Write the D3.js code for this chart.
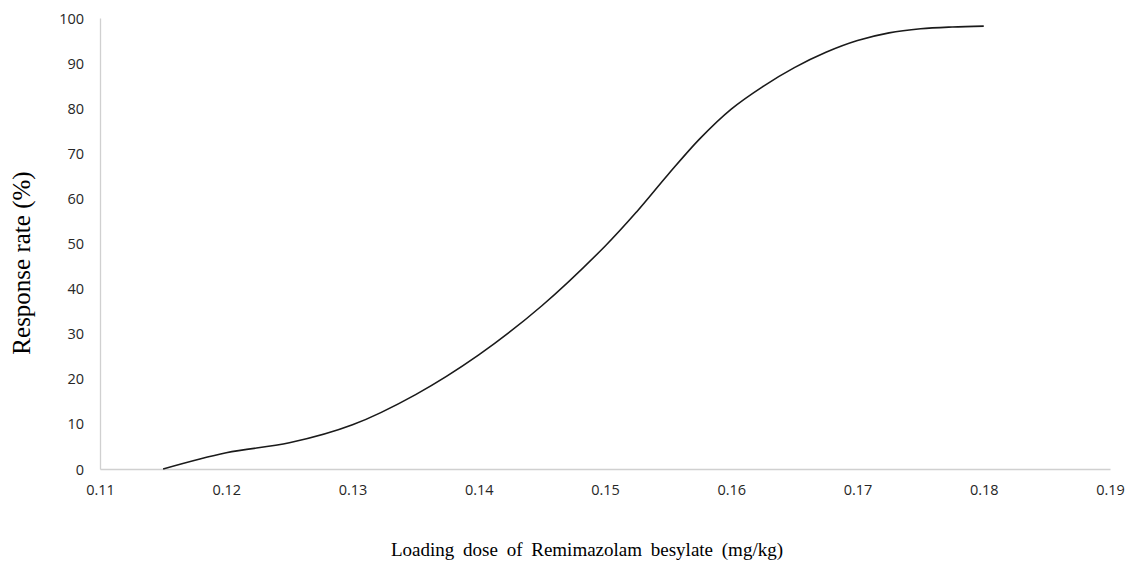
<!DOCTYPE html>
<html>
<head>
<meta charset="utf-8">
<script src="https://cdn.jsdelivr.net/npm/d3@7"></script>
<style>
  body { margin: 0; background: #fff; }
  .tick text { font-family: "Open Sans", "Noto Sans", sans-serif; font-size: 14.5px; fill: #262626; }
  .aText { font-family: "Liberation Serif", "Times New Roman", serif; fill: #000; }
</style>
</head>
<body>
<div id="chart"></div>
<script>
// dose (mg/kg) vs response rate (%)
var doses = [0.115, 0.12, 0.125, 0.13, 0.135, 0.14, 0.145, 0.15, 0.1525, 0.155, 0.1575,
             0.16, 0.1625, 0.165, 0.1675, 0.17, 0.1725, 0.175, 0.1775, 0.18];
var rates = [0, 3.6, 5.8, 9.8, 16.5, 25.3, 36.2, 49.4, 57, 65.3, 73.2,
             79.8, 84.8, 89, 92.4, 95, 96.7, 97.6, 98, 98.2];
var xTicks = [0.11, 0.12, 0.13, 0.14, 0.15, 0.16, 0.17, 0.18, 0.19];
var yTicks = [0, 10, 20, 30, 40, 50, 60, 70, 80, 90, 100];

var svgWidth = 1130;
var svgHeight = 566;

var margin = { top: 18, right: 20, bottom: 97, left: 100 };
var width = svgWidth - margin.left - margin.right;
var height = svgHeight - margin.top - margin.bottom;

var svg = d3.select("#chart")
  .append("svg")
  .attr("width", svgWidth)
  .attr("height", svgHeight);

var chartGroup = svg.append("g")
  .attr("transform", `translate(${margin.left}, ${margin.top})`);

var data = doses.map((d, i) => ({ dose: d, rate: rates[i] }));

var xLinearScale = d3.scaleLinear().domain([0.11, 0.19]).range([0, width]);
var yLinearScale = d3.scaleLinear().domain([0, 100]).range([height, 0]);

var bottomAxis = d3.axisBottom(xLinearScale).tickValues(xTicks).tickSize(0).tickPadding(16)
  .tickFormat(d3.format(".2f"));
var leftAxis = d3.axisLeft(yLinearScale).tickValues(yTicks).tickSize(0).tickPadding(16);

var xAxisG = chartGroup.append("g")
  .attr("transform", `translate(0, ${height})`)
  .call(bottomAxis);
var yAxisG = chartGroup.append("g").call(leftAxis);

[xAxisG, yAxisG].forEach(g => g.select(".domain").attr("stroke", "#d0d0d0").attr("stroke-width", 1.3));
yAxisG.selectAll(".tick text").attr("dy", "0.35em");

// smoothed curve
var line = d3.line()
  .x(d => xLinearScale(d.dose))
  .y(d => yLinearScale(d.rate))
  .curve(d3.curveCatmullRom.alpha(0.5));

chartGroup.append("path")
  .datum(data)
  .attr("d", line)
  .attr("fill", "none")
  .attr("stroke", "#1a1a1a")
  .attr("stroke-width", 1.6);

// axis labels
svg.append("text")
  .attr("class", "aText")
  .attr("transform", `translate(30, 263) rotate(-90)`)
  .attr("text-anchor", "middle")
  .style("font-size", "25px")
  .text("Response rate (%)");

svg.append("text")
  .attr("class", "aText")
  .attr("x", 587)
  .attr("y", 556)
  .attr("text-anchor", "middle")
  .style("font-size", "19px")
  .style("word-spacing", "4px")
  .text("Loading dose of Remimazolam besylate (mg/kg)");
</script>
</body>
</html>
